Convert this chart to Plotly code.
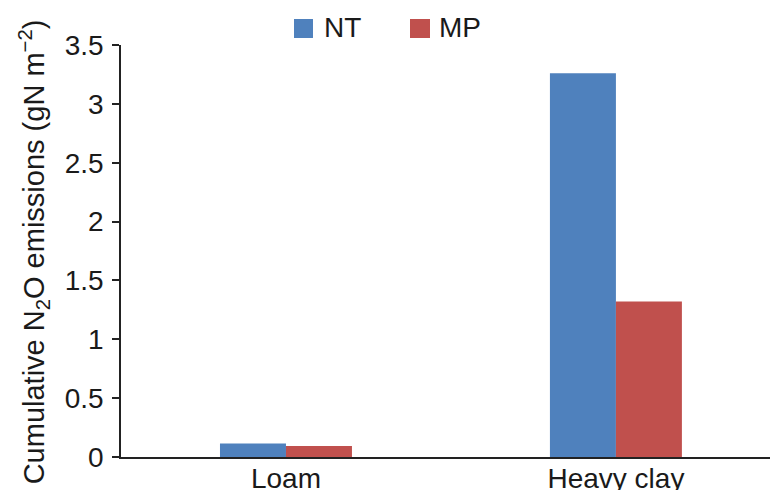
import plotly.graph_objects as go

categories = ["Loam", "Heavy clay"]
series_names = ["NT", "MP"]
nt_values = [0.115, 3.26]
mp_values = [0.093, 1.32]
y_ticks = [0, 0.5, 1, 1.5, 2, 2.5, 3, 3.5]
y_tick_labels = ["0", "0.5", "1", "1.5", "2", "2.5", "3", "3.5"]

FONT = "Liberation Sans, Arial, sans-serif"
COLORS = ["#4F81BD", "#C0504D"]
TXT = "#1a1a1a"

fig = go.Figure()
for name, vals, col in zip(series_names, [nt_values, mp_values], COLORS):
    fig.add_trace(go.Bar(name=name, x=categories, y=vals, marker_color=col,
                         marker_line_width=0, showlegend=False))

fig.update_layout(
    width=770, height=490,
    margin=dict(l=121, r=0, t=45, b=33, autoexpand=False),
    paper_bgcolor="white", plot_bgcolor="white",
    barmode="group", bargap=0.6, bargroupgap=0,
    font=dict(family=FONT, size=28, color=TXT),
    showlegend=False,
    xaxis=dict(range=[-0.5, 1.467], showline=True, linecolor="#222", linewidth=1.5,
               ticks="", showgrid=False, zeroline=False, automargin=False,
               ticklabelstandoff=-4, tickfont=dict(size=28)),
    yaxis=dict(range=[0, 3.5], showline=True, linecolor="#222", linewidth=1.5,
               ticks="outside", ticklen=7, tickcolor="#222", tickwidth=1.5,
               tickvals=y_ticks, ticktext=y_tick_labels, ticklabelstandoff=3,
               showgrid=False, zeroline=False, automargin=False,
               tickfont=dict(size=28)),
)

# manual legend (larger square swatches like the reference)
legend_sq_x = [(0.2666, 0.2958), (0.4453, 0.4761)]
legend_txt_x = [0.3097, 0.4869]
for name, col, (x0, x1), tx in zip(series_names, COLORS, legend_sq_x, legend_txt_x):
    fig.add_shape(type="rect", xref="paper", yref="paper", x0=x0, x1=x1,
                  y0=1.0170, y1=1.0631, fillcolor=col, line_width=0)
    fig.add_annotation(text=name, xref="paper", yref="paper", x=tx, y=1.0413,
                       xanchor="left", yanchor="middle", showarrow=False,
                       font=dict(size=28, family=FONT, color=TXT))

fig.add_annotation(
    text="Cumulative N<sub>2</sub>O emissions (gN m<sup>\u22122</sup>)",
    xref="paper", yref="paper", x=-0.134, y=1.066, xanchor="center", yanchor="top",
    textangle=-90, showarrow=False, font=dict(size=29, family=FONT, color=TXT),
)

fig.write_html("out.html")
